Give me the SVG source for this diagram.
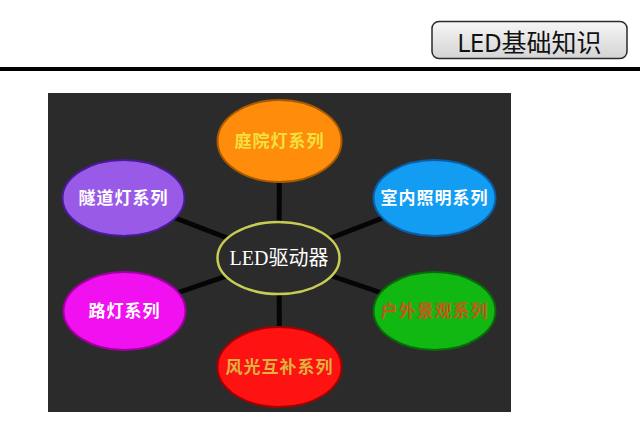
<svg xmlns="http://www.w3.org/2000/svg" width="640" height="432" viewBox="0 0 640 432">
<defs>
<linearGradient id="hdr" x1="0" y1="0" x2="0" y2="1">
<stop offset="0" stop-color="#f6f6f6"/>
<stop offset="1" stop-color="#d4d4d4"/>
</linearGradient>
</defs>
<style>
.lbl{font-family:"Noto Sans CJK SC","Liberation Serif",serif;font-size:17px;font-weight:bold;text-anchor:middle;letter-spacing:1px}
.spoke{stroke:#050505;stroke-width:5;stroke-linecap:butt}
.node{stroke-width:2}
</style>
<rect width="640" height="432" fill="#ffffff"/>
<g id="header">
<rect x="432" y="21.5" width="195" height="37" rx="7" fill="url(#hdr)" stroke="#2a2a2a" stroke-width="1.5"/>
<text x="529.5" y="52" font-family="'DejaVu Sans Condensed','Noto Sans CJK SC',sans-serif" font-size="25" text-anchor="middle" fill="#111">LED<tspan font-family="'Noto Sans CJK SC',sans-serif">基础知识</tspan></text>
<rect x="0" y="67" width="640" height="4" fill="#000"/>
</g>
<rect id="panel" x="48" y="93" width="463" height="319" fill="#2b2b2b"/>
<g id="connectors">
<line class="spoke" x1="279" y1="258" x2="279.5" y2="141"/>
<line class="spoke" x1="279" y1="258" x2="279.5" y2="367"/>
<line class="spoke" x1="279" y1="258" x2="123.5" y2="198"/>
<line class="spoke" x1="279" y1="258" x2="434.5" y2="198"/>
<line class="spoke" x1="279" y1="258" x2="124.5" y2="311"/>
<line class="spoke" x1="279" y1="258" x2="434.5" y2="311"/>
</g>
<g id="center">
<ellipse cx="278.5" cy="258" rx="61" ry="36" fill="#2b2b2b" stroke="#c8cc55" stroke-width="2.5"/>
<text x="279" y="265" font-family="'Liberation Serif','Noto Sans CJK SC',serif" font-size="20" text-anchor="middle" fill="#ffffff">LED<tspan font-family="'Noto Sans CJK SC',sans-serif">驱动器</tspan></text>
</g>
<g id="n-courtyard">
<ellipse class="node" cx="279.5" cy="141" rx="62" ry="41" fill="#ff8c0a" stroke="#a85a00"/>
<text class="lbl" x="279.5" y="147" fill="#f5e040">庭院灯系列</text>
</g>
<g id="n-tunnel">
<ellipse class="node" cx="123.5" cy="198" rx="61" ry="38" fill="#9a5ae8" stroke="#4a1a9a"/>
<text class="lbl" x="123.5" y="204" fill="#ffffff">隧道灯系列</text>
</g>
<g id="n-indoor">
<ellipse class="node" cx="434.5" cy="198" rx="61" ry="38" fill="#129cf2" stroke="#0a5ea8"/>
<text class="lbl" x="434.5" y="204" fill="#ffffff">室内照明系列</text>
</g>
<g id="n-street">
<ellipse class="node" cx="124.5" cy="311" rx="61" ry="39" fill="#f010f0" stroke="#a000a0"/>
<text class="lbl" x="124.5" y="317" fill="#ffffff">路灯系列</text>
</g>
<g id="n-outdoor">
<ellipse class="node" cx="434.5" cy="311" rx="61" ry="39" fill="#12b812" stroke="#0a6a0a"/>
<text class="lbl" x="434.5" y="317" fill="#c8561a" font-weight="normal">户外景观系列</text>
</g>
<g id="n-windsolar">
<ellipse class="node" cx="279.5" cy="367" rx="62" ry="40" fill="#ff1212" stroke="#a80000"/>
<text class="lbl" x="279.5" y="373" fill="#e0b040">风光互补系列</text>
</g>
</svg>
